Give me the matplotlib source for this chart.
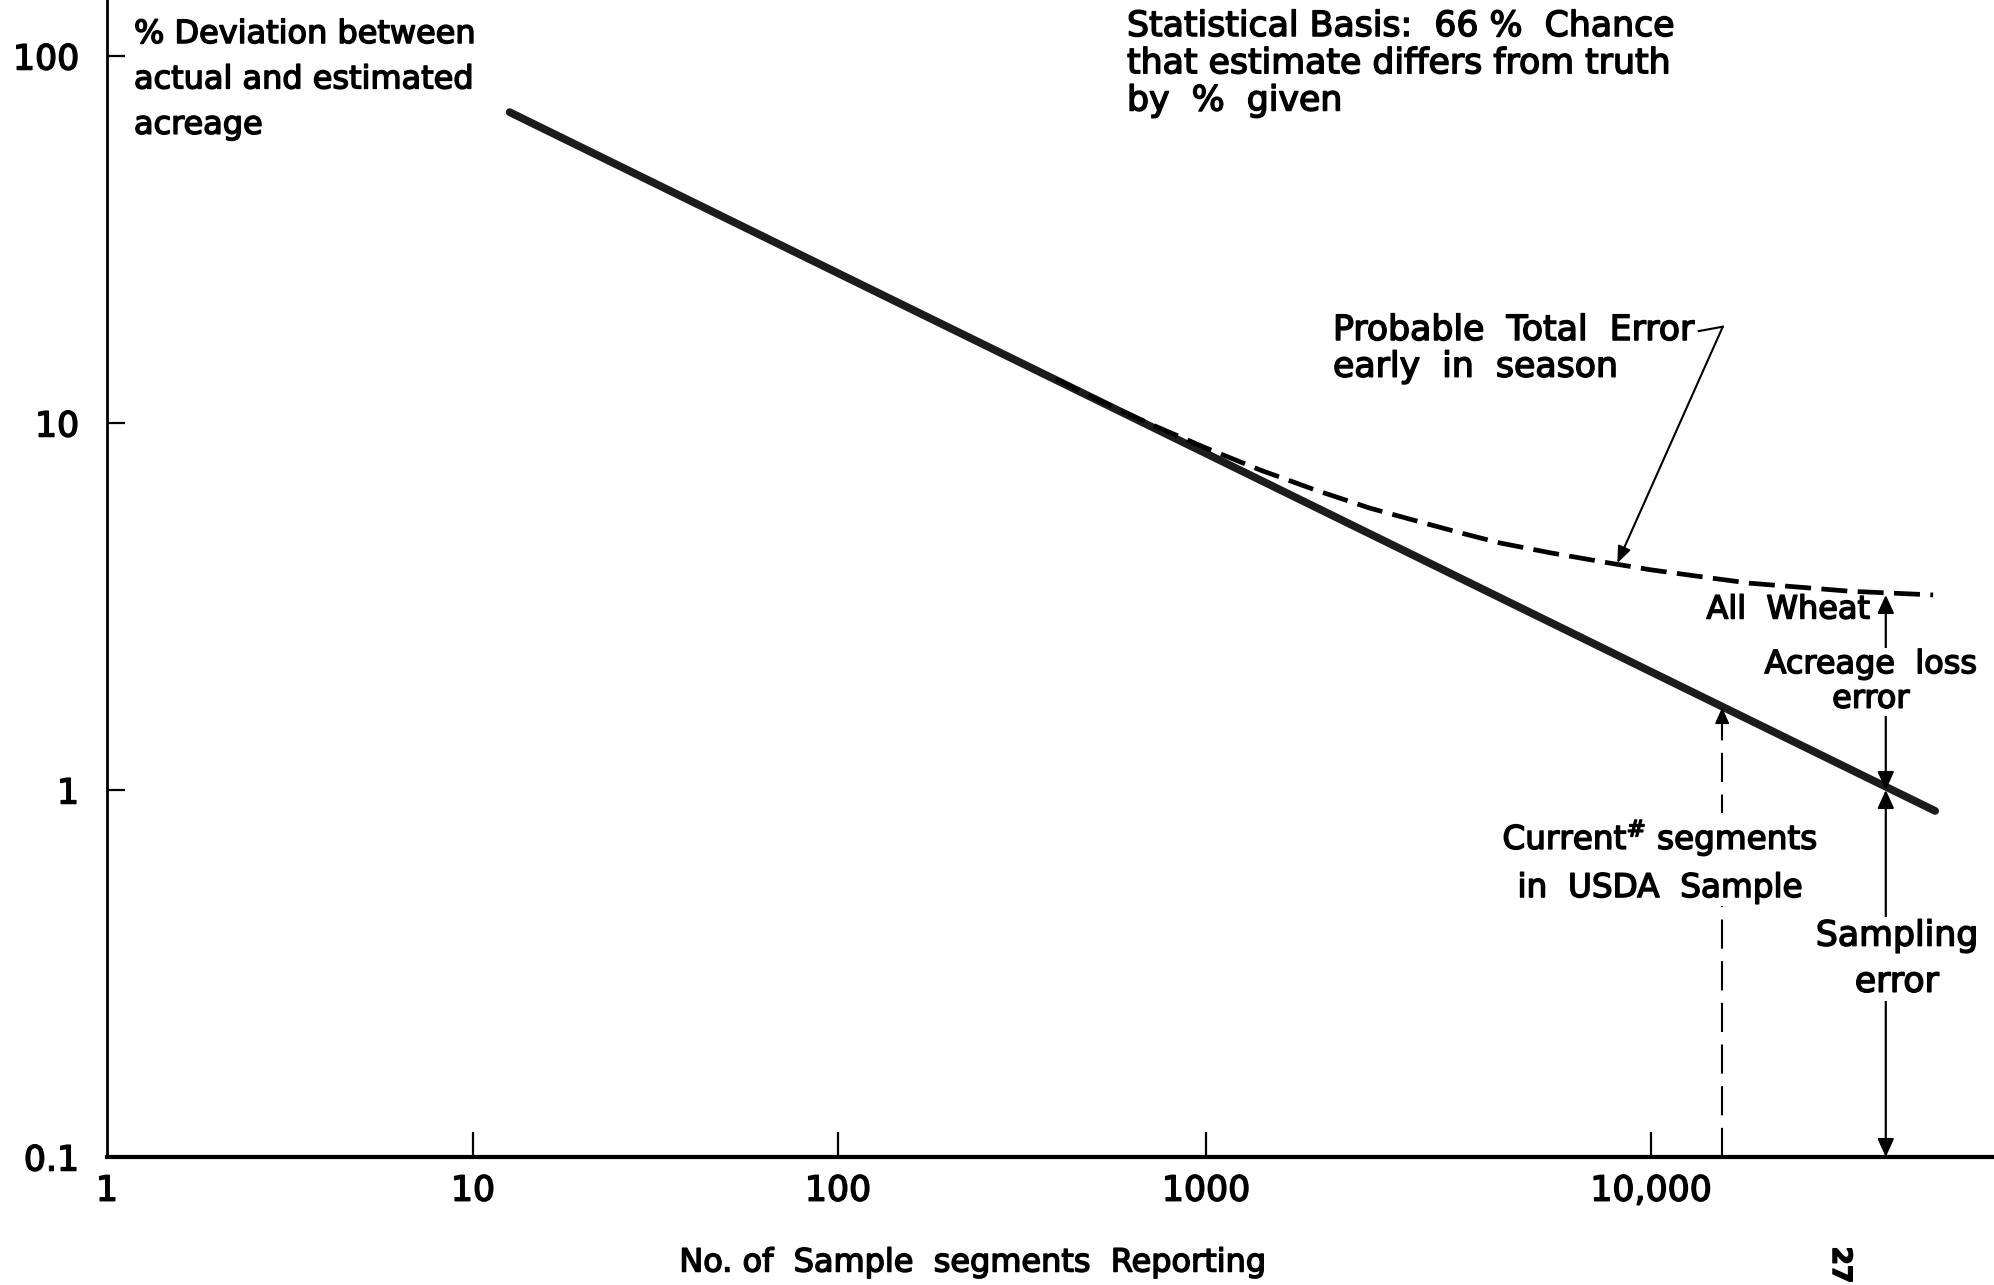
import numpy as np
import matplotlib
matplotlib.use("Agg")
import matplotlib.pyplot as plt
import matplotlib.patheffects as pe
from matplotlib.ticker import FixedLocator, FixedFormatter, NullLocator

# ---- data -------------------------------------------------------------
# Sampling error: % deviation vs. number of sample segments reporting
sampling_n = [12.6, 100, 1000, 10000, 43500]
sampling_pct = [70.3, 25.6, 8.26, 2.10, 0.877]

# Probable total error early in season (sampling + acreage loss error)
total_n = [390, 515, 705, 1000, 1322, 1766, 2337, 3141, 3802, 4581, 5934,
           8002, 10000, 13220, 16680, 27990, 43050]
total_pct = [13.2, 11.5, 9.94, 8.55, 7.45, 6.56, 5.86, 5.31, 4.99, 4.71, 4.43,
             4.16, 3.98, 3.80, 3.66, 3.48, 3.40]

# Current number of segments in the USDA sample
usda_n = 14450
usda_pct = 1.68

# All Wheat: sampling error and total error at the full sample size
wheat_n = 33700
wheat_sampling_pct = 1.0
wheat_total_pct = 3.4
wheat_floor_pct = 0.1

# Point on the total-error curve picked out by the "early in season" note
early_n = 8400
early_pct = 4.15

x_ticks = [1, 10, 100, 1000, 10000]
x_tick_labels = ["1", "10", "100", "1000", "10,000"]
y_ticks = [0.1, 1, 10, 100]
y_tick_labels = ["0.1", "1", "10", "100"]

# ---- figure -----------------------------------------------------------
W, H, DPI = 1994, 1285, 100
fig = plt.figure(figsize=(W / DPI, H / DPI), dpi=DPI)
fig.patch.set_facecolor("white")
FONT = "DejaVu Sans"
plt.rcParams["font.family"] = [FONT]
# heavier pen strokes for the lettering
INK = [pe.withStroke(linewidth=1.1, foreground="black")]

def figpt(x, y):
    """pixel position (from top-left) -> figure fraction"""
    return x / W, 1 - y / H

# hand-drafted logarithmic x axis: position of each decade on the sheet
decade_exp = np.array([-2, -1, 0, 1, 2, 3, 4, 5], float)
decade_pos = np.array([-625, -259, 107, 473, 838, 1206, 1651, 2096], float)

def x_forward(x):
    x = np.asarray(x, float)
    with np.errstate(divide="ignore", invalid="ignore"):
        lx = np.log10(np.where(x > 0, x, 1e-6))
    return np.interp(lx, decade_exp, decade_pos)

def x_inverse(p):
    p = np.asarray(p, float)
    return 10 ** np.interp(p, decade_pos, decade_exp)

ax_left, ax_bottom_px = 107, 1157
ax = fig.add_axes([ax_left / W, (H - ax_bottom_px) / H, 1 - ax_left / W, ax_bottom_px / H])
ax.set_xscale("function", functions=(x_forward, x_inverse))
ax.set_yscale("log")
ax.set_xlim(1, float(x_inverse(W)))
ax.set_ylim(0.1, 10 ** (2 + 56 / 367))

for s in ("top", "right"):
    ax.spines[s].set_visible(False)
ax.spines["left"].set_linewidth(2.0)
ax.spines["bottom"].set_linewidth(3.0)

ax.xaxis.set_major_locator(FixedLocator(x_ticks))
ax.xaxis.set_major_formatter(FixedFormatter(x_tick_labels))
ax.xaxis.set_minor_locator(NullLocator())
ax.yaxis.set_major_locator(FixedLocator(y_ticks))
ax.yaxis.set_major_formatter(FixedFormatter(y_tick_labels))
ax.yaxis.set_minor_locator(NullLocator())
ax.tick_params(axis="x", direction="in", length=18, width=1.6, pad=12, labelsize=25)
ax.tick_params(axis="y", direction="in", length=13, width=1.6, pad=20, labelsize=25)
for lab in ax.get_xticklabels() + ax.get_yticklabels():
    lab.set_path_effects(INK)
# the corner labels carry no tick mark
ax.xaxis.get_major_ticks()[0].tick1line.set_visible(False)
ax.yaxis.get_major_ticks()[0].tick1line.set_visible(False)

# ---- lines ------------------------------------------------------------
ax.plot(sampling_n, sampling_pct, color="#1c1c1c", lw=5.6,
        solid_capstyle="round", zorder=3)
ax.plot(total_n, total_pct, color="black", lw=3.4,
        linestyle=(0, (5.5, 2.2)), zorder=4)

# current USDA sample size: dashed drop line with a small arrowhead
ax.plot([usda_n, usda_n], [0.1, usda_pct * 0.97], color="black", lw=1.5,
        linestyle=(0, (14, 6)), zorder=2)
ax.annotate("", xy=(usda_n, usda_pct), xytext=(usda_n, usda_pct * 0.9),
            arrowprops=dict(arrowstyle="-|>,head_length=0.5,head_width=0.22",
                            mutation_scale=20, color="black", lw=1.2,
                            shrinkA=0, shrinkB=0), zorder=5)

arrow_kw = dict(arrowstyle="<|-|>,head_length=0.55,head_width=0.25",
                mutation_scale=20, color="black", lw=1.6,
                shrinkA=0, shrinkB=0)
# acreage loss error span
ax.annotate("", xy=(wheat_n, wheat_total_pct), xytext=(wheat_n, wheat_sampling_pct),
            arrowprops=arrow_kw, zorder=5)
# sampling error span
ax.annotate("", xy=(wheat_n, wheat_sampling_pct), xytext=(wheat_n, wheat_floor_pct),
            arrowprops=arrow_kw, zorder=5)

# pointer to the total-error curve
hook_n = [12800, 14500]
hook_pct = [17.8, 18.3]
ax.plot(hook_n, hook_pct, color="black", lw=1.5, zorder=5)
ax.annotate("", xy=(early_n, early_pct), xytext=(hook_n[1], hook_pct[1]),
            arrowprops=dict(arrowstyle="-|>,head_length=0.5,head_width=0.2",
                            mutation_scale=20, color="black", lw=1.5,
                            shrinkA=0, shrinkB=0), zorder=5)

# ---- text -------------------------------------------------------------
box = dict(boxstyle="square,pad=0.05", fc="white", ec="none")

def note(obj):
    obj.set_path_effects(INK)
    return obj

note(fig.text(*figpt(134, 19), "% Deviation between\nactual and estimated\nacreage",
              fontsize=23, ha="left", va="top", linespacing=1.6))
note(fig.text(*figpt(1127, 9), "Statistical Basis:  66 %  Chance\nthat estimate differs from truth\nby  %  given",
              fontsize=25, ha="left", va="top", linespacing=1.12))
note(fig.text(*figpt(1333, 313), "Probable  Total  Error\nearly  in  season",
              fontsize=25, ha="left", va="top", linespacing=1.1))
note(fig.text(*figpt(1870, 610), "All  Wheat", fontsize=23, ha="right", va="center"))
note(ax.text(float(x_inverse(1871)), 1.97, "Acreage  loss\nerror", fontsize=23,
             ha="center", va="center", linespacing=1.15, bbox=box, zorder=6))
note(ax.text(float(x_inverse(1897)), 0.347, "Sampling\nerror", fontsize=25,
             ha="center", va="center", linespacing=1.45, bbox=box, zorder=6))
note(ax.text(float(x_inverse(1660)), 0.644, "Current$^{\\#}$ segments\nin  USDA  Sample",
             fontsize=23.5, ha="center", va="center", linespacing=1.5, bbox=box, zorder=6))
note(fig.text(*figpt(973, 1263), "No. of  Sample  segments  Reporting",
              fontsize=23, ha="center", va="center"))
note(fig.text(*figpt(1840, 1265), "27", fontsize=19, fontweight="bold", rotation=270,
              ha="center", va="center"))

fig.savefig("out.png", dpi=DPI, facecolor="white")
